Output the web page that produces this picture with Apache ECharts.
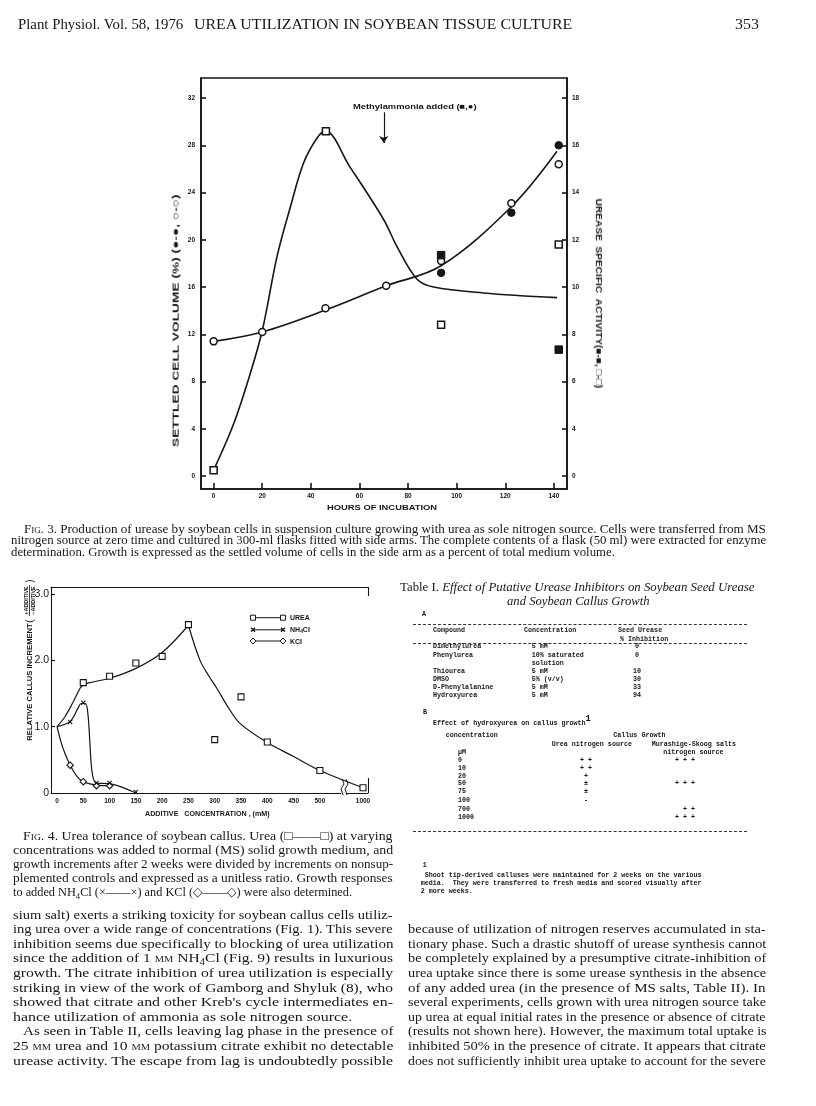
<!DOCTYPE html>
<html><head><meta charset="utf-8">
<script src="https://cdn.jsdelivr.net/npm/echarts@6/dist/echarts.min.js"></script>
<style>
html,body{margin:0;padding:0;background:#fff;}
#page{position:relative;width:816px;height:1106px;overflow:hidden;background:#fff;}
#chart{position:absolute;left:0;top:0;width:816px;height:1106px;}
.t{position:absolute;white-space:pre;color:#161616;line-height:1;}
.sub{font-size:0.7em;position:relative;top:0.3em;}
.sup{font-size:0.7em;position:relative;top:-0.45em;}
.sc{font-variant:small-caps;}
.dash{position:absolute;height:0;border-top:1px dashed #333;}
</style></head><body><div id="page"><div id="chart"></div></div>
<script>
// ---------------- Fig. 3 data ----------------
const hourTicks = [0, 20, 40, 60, 80, 100, 120, 140];
const volTicks = [0, 4, 8, 12, 16, 20, 24, 28, 32];
const ureaseTickPos = [0, 2, 4, 6, 8, 10, 12, 14, 16];
const ureaseTickLabels = ['0', '4', '6', '8', '10', '12', '14', '16', '18'];
// settled cell volume (%)
const volOpen = [[0, 11.4], [20, 12.2], [46, 14.2], [71, 16.1], [93.6, 18.2], [122.5, 23.1], [142, 26.4]];
const volFilled = [[93.6, 17.2], [122.5, 22.3], [142, 28.0]];
const volCurve = [[0, 11.4], [20, 12.2], [46, 14.05], [71, 16.1], [93.6, 17.8], [122.5, 22.8], [141.3, 27.5]];
// urease specific activity (right-axis position units)
const ureaseOpen = [[0, 0.24], [46.2, 14.6], [93.6, 6.4], [142, 9.8]];
const ureaseFilled = [[93.6, 9.35], [142, 5.35]];
const ureaseCurve = [[0, 0.25], [8.2, 2.2], [15.1, 4.35], [20, 6.15], [26.1, 9.3], [31.6, 11.4], [37, 13.25], [42.5, 14.3], [46, 14.6], [56, 13.1], [70, 10.85], [75.5, 9.7], [83.7, 8.33], [90.5, 8.0], [111, 7.75], [141.3, 7.55]];
const arrowHour = 70, arrowFrom = 30.8, arrowTo = 28.2;

// ---------------- Fig. 4 data ----------------
const concTicks = [0, 50, 100, 150, 200, 250, 300, 350, 400, 450, 500, 1000];
const relTicks = [0, 1, 2, 3];
const ureaConc = [50, 100, 150, 200, 250, 300, 350, 400, 500, 1000];
const ureaRel = [1.665, 1.76, 1.96, 2.06, 2.54, 0.805, 1.45, 0.77, 0.34, 0.08];
const ureaCurveUp = [[0, 1.0], [15, 1.15], [30, 1.36], [40, 1.52], [47, 1.61], [60, 1.66], [100, 1.73], [150, 1.88], [200, 2.12], [250, 2.53]];
const ureaCurveDown = [[250, 2.53], [272, 2.0], [290, 1.75], [304, 1.58], [325, 1.3], [348, 1.05], [400, 0.76], [450, 0.55], [500, 0.34], [1000, 0.08]];
const nh4Conc = [25, 50, 75, 100, 150];
const nh4Rel = [1.07, 1.36, 0.15, 0.15, 0.015];
const nh4Curve = [[0, 1.0], [25, 1.08], [40, 1.28], [46, 1.35], [54, 1.35], [58, 1.25], [74, 0.15], [100, 0.14], [150, 0.0]];
const kclConc = [25, 50, 75, 100];
const kclRel = [0.42, 0.17, 0.11, 0.11];
const kclCurve = [[0, 1.0], [8, 0.76], [15, 0.6], [25, 0.42], [38, 0.25], [50, 0.17], [75, 0.12], [100, 0.11]];

// broken concentration axis: 1000 mM is drawn just past the break after 500 mM
const concPos = c => (c <= 500 ? c : 582 + (c - 1000));

const black = '#151515';
const S = '"Liberation Sans", Arial, sans-serif';
const SERIF = '"Liberation Serif", "Times New Roman", serif';
const MONO = '"Liberation Mono", "Courier New", monospace';

const chart = echarts.init(document.getElementById('chart'), null, {renderer: 'canvas'});

function curve(data, xi, yi, w, extra) {
  return Object.assign({type: 'line', xAxisIndex: xi, yAxisIndex: yi, data: data, smooth: 0.35,
    symbol: 'none', showSymbol: false, silent: true, z: 2,
    lineStyle: {color: black, width: w}}, extra || {});
}
function marks(data, xi, yi, symbol, size, fill, bw) {
  return {type: 'scatter', xAxisIndex: xi, yAxisIndex: yi, data: data, symbol: symbol, symbolSize: size,
    silent: true, z: 4, itemStyle: {color: fill, borderColor: black, borderWidth: bw, opacity: 1}};
}
const xPath = 'path://M0,1.5L1.5,0L5,3.5L8.5,0L10,1.5L6.5,5L10,8.5L8.5,10L5,6.5L1.5,10L0,8.5L3.5,5Z';
const zip = (xs, ys) => xs.map((x, i) => [concPos(x), ys[i]]);
const posCurve = arr => arr.map(p => [concPos(p[0]), p[1]]);
const ln = (x1, y1, x2, y2, w) => ({type: 'line', shape: {x1: x1, y1: y1, x2: x2, y2: y2}, style: {stroke: black, lineWidth: w || 1}, z: 60});

const axisLbl3 = {fontSize: 6.5, fontWeight: 'bold', fontFamily: S, color: black};
const option = {
  animation: false,
  grid: [
    {left: 201, top: 78, width: 366, height: 411, show: true, borderColor: black, borderWidth: 1.6, backgroundColor: 'rgba(0,0,0,0)'},
    {left: 51, top: 587, width: 317, height: 206}
  ],
  xAxis: [
    {gridIndex: 0, type: 'value', min: -5.2, max: 145.4,
      axisLine: {show: true, onZero: false, lineStyle: {color: black, width: 1.6}},
      axisTick: {show: true, inside: true, length: 6, customValues: hourTicks, lineStyle: {color: black, width: 1.6}},
      axisLabel: Object.assign({customValues: hourTicks, margin: 4}, axisLbl3),
      splitLine: {show: false}},
    {gridIndex: 1, type: 'value', min: -11.4, max: 591.5,
      axisLine: {show: true, onZero: false, lineStyle: {color: black, width: 1.1}},
      axisTick: {show: false},
      axisLabel: {customValues: concTicks.map(concPos), margin: 5, fontSize: 6.5, fontWeight: 'bold', fontFamily: S, color: black,
        formatter: v => { const i = concTicks.findIndex(c => Math.abs(concPos(c) - v) < 1e-6); return i < 0 ? '' : String(concTicks[i]); }},
      splitLine: {show: false}},
    {gridIndex: 1, type: 'value', position: 'top', min: -11.4, max: 591.5,
      axisLine: {show: true, onZero: false, lineStyle: {color: black, width: 1.1}},
      axisTick: {show: false}, axisLabel: {show: false}, splitLine: {show: false}}
  ],
  yAxis: [
    {gridIndex: 0, type: 'value', position: 'left', min: -1.1, max: 33.7,
      axisLine: {show: true, onZero: false, lineStyle: {color: black, width: 1.6}},
      axisTick: {show: true, inside: true, length: 5, customValues: volTicks, lineStyle: {color: black, width: 1.6}},
      axisLabel: Object.assign({customValues: volTicks, margin: 6}, axisLbl3),
      splitLine: {show: false}},
    {gridIndex: 0, type: 'value', position: 'right', min: -0.55, max: 16.85,
      axisLine: {show: true, onZero: false, lineStyle: {color: black, width: 1.6}},
      axisTick: {show: true, inside: true, length: 5, customValues: ureaseTickPos, lineStyle: {color: black, width: 1.6}},
      axisLabel: Object.assign({customValues: ureaseTickPos, margin: 5,
        formatter: v => ureaseTickLabels[ureaseTickPos.indexOf(v)] || ''}, axisLbl3),
      splitLine: {show: false}},
    {gridIndex: 1, type: 'value', position: 'left', min: 0, max: 3.107,
      axisLine: {show: true, onZero: false, lineStyle: {color: black, width: 1.1}},
      axisTick: {show: true, inside: true, length: 4, customValues: [1, 2, 3], lineStyle: {color: black, width: 1.1}},
      axisLabel: {customValues: relTicks, margin: 2, fontSize: 10.5, fontFamily: S, color: black,
        formatter: v => (v === 0 ? '0' : v.toFixed(1))},
      splitLine: {show: false}}
  ],
  series: [
    curve(ureaseCurve, 0, 1, 1.6),
    curve(volCurve, 0, 0, 1.6, {markLine: {silent: true, symbol: ['none', 'arrow'], symbolSize: 7, animation: false,
      label: {show: false}, lineStyle: {color: black, width: 1.2, type: 'solid'},
      data: [[{coord: [arrowHour, arrowFrom]}, {coord: [arrowHour, arrowTo]}]]}}),
    marks(volOpen, 0, 0, 'circle', 7, '#fff', 1.5),
    marks(volFilled, 0, 0, 'circle', 7.5, black, 1),
    marks(ureaseOpen, 0, 1, 'rect', 7, '#fff', 1.5),
    marks(ureaseFilled, 0, 1, 'rect', 7.5, black, 1),

    curve(posCurve(ureaCurveUp), 1, 2, 1.2),
    curve(posCurve(ureaCurveDown), 1, 2, 1.2),
    curve(posCurve(nh4Curve), 1, 2, 1.2),
    curve(posCurve(kclCurve), 1, 2, 1.2),
    marks(zip(ureaConc, ureaRel), 1, 2, 'rect', 6, '#fff', 1.1),
    marks(zip(kclConc, kclRel), 1, 2, 'diamond', 6.5, '#fff', 1.1),
    marks(zip(nh4Conc, nh4Rel), 1, 2, xPath, 5, black, 0)
  ],
  graphic: [
    // axis break marks (Fig. 4)
    {type: 'rect', shape: {x: 341, y: 788, width: 6, height: 8}, style: {fill: '#fff'}, z: 50},
    {type: 'polyline', shape: {points: [[342, 779], [344, 784], [341, 789], [343, 795]]}, style: {stroke: black, lineWidth: 1, fill: null}, z: 51},
    {type: 'polyline', shape: {points: [[346, 779], [348, 784], [345, 789], [347, 795]]}, style: {stroke: black, lineWidth: 1, fill: null}, z: 51},
    // partial right frame (Fig. 4)
    ln(368.5, 587, 368.5, 596, 1.1),
    ln(368.5, 778, 368.5, 793, 1.1),
    // legend (Fig. 4)
    ln(253, 617.7, 283, 617.7),
    {type: 'rect', shape: {x: 250.5, y: 615.2, width: 5, height: 5}, style: {fill: '#fff', stroke: black, lineWidth: 1}, z: 61},
    {type: 'rect', shape: {x: 280.5, y: 615.2, width: 5, height: 5}, style: {fill: '#fff', stroke: black, lineWidth: 1}, z: 61},
    ln(253, 629.8, 283, 629.8),
    ln(251, 627.8, 255, 631.8, 1.3), ln(255, 627.8, 251, 631.8, 1.3),
    ln(281, 627.8, 285, 631.8, 1.3), ln(285, 627.8, 281, 631.8, 1.3),
    ln(253, 641, 283, 641),
    {type: 'polygon', shape: {points: [[253, 638], [256, 641], [253, 644], [250, 641]]}, style: {fill: '#fff', stroke: black, lineWidth: 1}, z: 61},
    {type: 'polygon', shape: {points: [[283, 638], [286, 641], [283, 644], [280, 641]]}, style: {fill: '#fff', stroke: black, lineWidth: 1}, z: 61},
    // fraction bar in Fig. 4 y title
    ln(29.5, 585, 29.5, 616, 0.8)
  ]
};
chart.setOption(option);

// ---------------- text ----------------
const page = document.getElementById('page');
let lastSx = 1;
function put(html, o) {
  const el = document.createElement('div');
  el.className = 't';
  el.innerHTML = html;
  el.style.fontFamily = o.font || SERIF;
  el.style.fontSize = (o.size || 12) + 'px';
  el.style.fontWeight = o.bold ? 'bold' : 'normal';
  if (o.italic) el.style.fontStyle = 'italic';
  page.appendChild(el);
  const w = el.offsetWidth, h = el.offsetHeight;
  const sx = o.w ? o.w / w : (o.sx || 1);
  lastSx = sx;
  if (o.rot) {
    el.style.left = (o.x - w / 2) + 'px';
    el.style.top = (o.y - h / 2) + 'px';
    el.style.transformOrigin = '50% 50%';
    el.style.transform = 'rotate(' + o.rot + 'deg) scaleX(' + sx + ')';
  } else {
    const ax = o.anchor === 'center' ? w * sx / 2 : (o.anchor === 'right' ? w * sx : 0);
    el.style.left = (o.x - ax) + 'px';
    el.style.top = (o.y - h / 2) + 'px';
    el.style.transformOrigin = '0 50%';
    el.style.transform = 'scaleX(' + sx + ')';
  }
  return el;
}
// lines of a justified paragraph: [html, left, right]; right = null keeps the previous line's condensing
function para(lines, y0, dy, size) {
  lines.forEach((l, i) => {
    const o = {x: l[1], y: y0 + dy * i, size: size};
    if (l[2] != null) o.w = l[2] - l[1]; else o.sx = lastSx;
    put(l[0], o);
  });
}
function dash(x, y, w) {
  const d = document.createElement('div');
  d.className = 'dash';
  d.style.left = x + 'px'; d.style.top = y + 'px'; d.style.width = w + 'px';
  page.appendChild(d);
}

// running head
put('Plant Physiol. Vol. 58, 1976', {x: 18, y: 25, w: 165, size: 14});
put('UREA UTILIZATION IN SOYBEAN TISSUE CULTURE', {x: 194, y: 25, w: 378, size: 14});
put('353', {x: 735, y: 25, w: 24, size: 14});

// Fig. 3 labels
put('Methylammonia added (■,●)', {x: 353, y: 107, w: 124, size: 8, bold: true, font: S});
put('HOURS OF INCUBATION', {x: 327, y: 508, w: 110, size: 8, bold: true, font: S});
put('SETTLED CELL VOLUME (%) (●-●, ○-○)', {x: 175, y: 321, w: 253, size: 9.5, bold: true, font: S, rot: -90});
put('UREASE &nbsp;SPECIFIC &nbsp;ACTIVITY(■-■, □-□)', {x: 598, y: 293, w: 190, size: 9, bold: true, font: S, rot: 90});

// Fig. 3 caption
para([
  ['<span class="sc">Fig.</span> 3. Production of urease by soybean cells in suspension culture growing with urea as sole nitrogen source. Cells were transferred from MS', 24, 766],
  ['nitrogen source at zero time and cultured in 300-ml flasks fitted with side arms. The complete contents of a flask (50 ml) were extracted for enzyme', 11, 766],
  ['determination. Growth is expressed as the settled volume of cells in the side arm as a percent of total medium volume.', 11, null]
], 529.5, 11.9, 11.8);

// Fig. 4 labels
put('RELATIVE CALLUS INCREMENT', {x: 29.5, y: 681.5, w: 117, size: 8, bold: true, font: S, rot: -90});
put('+ADDITIVE', {x: 26, y: 600.5, w: 28, size: 5, bold: true, font: S, rot: -90});
put('−ADDITIVE', {x: 33, y: 600.5, w: 28, size: 5, bold: true, font: S, rot: -90});
put('(', {x: 29.5, y: 621, size: 10, font: S, rot: -90});
put(')', {x: 29.5, y: 581, size: 10, font: S, rot: -90});
put('ADDITIVE &nbsp; CONCENTRATION , (mM)', {x: 145, y: 814.3, w: 125, size: 7.5, bold: true, font: S});
put('UREA', {x: 290, y: 617.7, size: 7, bold: true, font: S});
put('NH<span class="sub">4</span>CI', {x: 290, y: 629.8, size: 7, bold: true, font: S});
put('KCI', {x: 290, y: 641, size: 7, bold: true, font: S});

// Fig. 4 caption
para([
  ['<span class="sc">Fig.</span> 4. Urea tolerance of soybean callus. Urea (□——□) at varying', 23.3, 393],
  ['concentrations was added to normal (MS) solid growth medium, and', 13.3, 393],
  ['growth increments after 2 weeks were divided by increments on nonsup-', 13.3, 393],
  ['plemented controls and expressed as a unitless ratio. Growth responses', 13.3, 393],
  ['to added NH<span class="sub">4</span>Cl (×——×) and KCl (◇——◇) were also determined.', 13.3, 352]
], 835, 14.2, 13);

// Table I
put('Table I. <i>Effect of Putative Urease Inhibitors on Soybean Seed Urease</i>', {x: 400, y: 586, w: 355, size: 13});
put('<i>and Soybean Callus Growth</i>', {x: 507, y: 600.5, w: 143, size: 13});
const mono = (s, x, y, anchor) => put(s, {x: x, y: y, size: 6.7, bold: true, font: MONO, anchor: anchor || 'left'});
mono('A', 422, 614);
dash(413, 624, 334);
mono('Compound', 433, 630.7); mono('Concentration', 524, 630.7); mono('Seed Urease', 618, 630.7);
mono('% Inhibition', 620, 639);
dash(413, 643, 334);
const tabA = [
  ['Dimethylurea', '5 mM', '0', 646.7],
  ['Phenylurea', '10% saturated', '0', 655],
  ['', 'solution', '', 663.3],
  ['Thiourea', '5 mM', '10', 671.3],
  ['DMSO', '5% (v/v)', '30', 679.3],
  ['D-Phenylalanine', '5 mM', '33', 687.7],
  ['Hydroxyurea', '5 mM', '94', 695.7]
];
tabA.forEach(r => { if (r[0]) mono(r[0], 433, r[3]); mono(r[1], 531.7, r[3]); if (r[2]) mono(r[2], 637, r[3], 'center'); });
mono('B', 423, 712.3);
mono('Effect of hydroxyurea on callus growth<span class="sup" style="font-size:1.3em">1</span>', 433, 723.3);
mono('concentration', 445.7, 735.7); mono('Callus Growth', 613.3, 735.7);
mono('Urea nitrogen source', 551.7, 744); mono('Murashige-Skoog salts', 651.7, 744);
mono('µM', 458, 752.3); mono('nitrogen source', 663.3, 752.3);
const tabB = [
  ['0', '+ +', '+ + +', 760],
  ['10', '+ +', '', 768],
  ['20', '+', '', 776],
  ['50', '±', '+ + +', 783.7],
  ['75', '±', '', 791.7],
  ['100', '-', '', 800],
  ['700', '', '+ +', 809],
  ['1000', '', '+ + +', 817]
];
tabB.forEach(r => { mono(r[0], 458, r[3]); if (r[1]) mono(r[1], 586, r[3], 'center'); if (r[2]) mono(r[2], r[2] === '+ +' ? 689 : 685, r[3], 'center'); });
dash(413, 830.5, 334);
mono('1', 422.7, 865.7);
mono(' Shoot tip-derived calluses were maintained for 2 weeks on the various', 420.7, 875);
mono('media.  They were transferred to fresh media and scored visually after', 420.7, 883.3);
mono('2 more weeks.', 420.7, 891.7);

// body text
para([
  ['sium salt) exerts a striking toxicity for soybean callus cells utiliz-', 13, 393],
  ['ing urea over a wide range of concentrations (Fig. 1). This severe', 13, 393],
  ['inhibition seems due specifically to blocking of urea utilization', 13, 393],
  ['since the addition of 1 <span class="sc">mm</span> NH<span class="sub">4</span>Cl (Fig. 9) results in luxurious', 13, 393],
  ['growth. The citrate inhibition of urea utilization is especially', 13, 393],
  ['striking in view of the work of Gamborg and Shyluk (8), who', 13, 393],
  ['showed that citrate and other Kreb\'s cycle intermediates en-', 13, 393],
  ['hance utilization of ammonia as sole nitrogen source.', 13, null],
  ['As seen in Table II, cells leaving lag phase in the presence of', 23, 393],
  ['25 <span class="sc">mm</span> urea and 10 <span class="sc">mm</span> potassium citrate exhibit no detectable', 13, 393],
  ['urease activity. The escape from lag is undoubtedly possible', 13, 393]
], 914, 14.6, 13.4);
para([
  'because of utilization of nitrogen reserves accumulated in sta-',
  'tionary phase. Such a drastic shutoff of urease synthesis cannot',
  'be completely explained by a presumptive citrate-inhibition of',
  'urea uptake since there is some urease synthesis in the absence',
  'of any added urea (in the presence of MS salts, Table II). In',
  'several experiments, cells grown with urea nitrogen source take',
  'up urea at equal initial rates in the presence or absence of citrate',
  '(results not shown here). However, the maximum total uptake is',
  'inhibited 50% in the presence of citrate. It appears that citrate',
  'does not sufficiently inhibit urea uptake to account for the severe'
].map(s => [s, 408, 766]), 928.6, 14.6, 13.4);
</script></body></html>
